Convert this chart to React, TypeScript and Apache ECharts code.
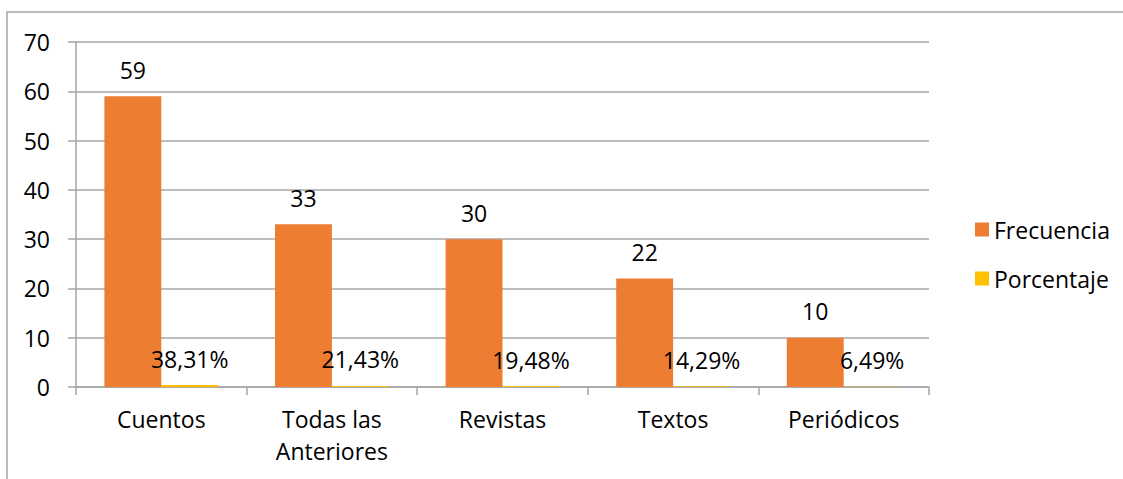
import React, { useEffect, useRef } from "react";
import * as echarts from "echarts";

const categories = ["Cuentos", "Todas las\nAnteriores", "Revistas", "Textos", "Periódicos"];
const frecuencia = [59, 33, 30, 22, 10];
const porcentaje = [0.3831, 0.2143, 0.1948, 0.1429, 0.0649];
const seriesNames = ["Frecuencia", "Porcentaje"];
const yTicks = { min: 0, max: 70, interval: 10 };

const FONT = "'Open Sans', sans-serif";
const GRAY = "#a6a6a6";
const FS = 23;

export default function App() {
  const ref = useRef<HTMLDivElement>(null);
  useEffect(() => {
    if (!ref.current) return;
    const chart = echarts.init(ref.current, undefined, { renderer: "svg" });
    chart.setOption({
      animation: false,
      backgroundColor: "#ffffff",
      textStyle: { fontFamily: FONT },
      graphic: [
        {
          type: "rect",
          shape: { x: 7, y: 12, width: 1140, height: 490 },
          style: { fill: "none", stroke: GRAY, lineWidth: 1.5 },
          silent: true,
        },
      ],
      grid: { left: 76, right: 194, top: 42, bottom: 92 },
      legend: {
        orient: "vertical",
        left: 970,
        top: 212,
        itemWidth: 14,
        itemHeight: 14,
        itemGap: 24,
        icon: "rect",
        textStyle: { fontFamily: FONT, fontSize: FS, color: "#000", lineHeight: 25 },
        data: seriesNames,
      },
      xAxis: {
        type: "category",
        data: categories,
        axisLine: { show: true, lineStyle: { color: GRAY, width: 1.5 } },
        axisTick: { show: true, length: 8, lineStyle: { color: GRAY, width: 1.5 } },
        axisLabel: {
          fontFamily: FONT,
          fontSize: FS,
          color: "#000",
          margin: 16,
          lineHeight: 32,
          interval: 0,
        },
      },
      yAxis: {
        type: "value",
        min: yTicks.min,
        max: yTicks.max,
        interval: yTicks.interval,
        axisLine: { show: true, lineStyle: { color: GRAY, width: 1.5 } },
        axisTick: { show: true, length: 8, lineStyle: { color: GRAY, width: 1.5 } },
        splitLine: { show: true, lineStyle: { color: GRAY, width: 1.5 } },
        axisLabel: { fontFamily: FONT, fontSize: FS, color: "#000", margin: 26 },
      },
      series: [
        {
          name: seriesNames[0],
          type: "bar",
          data: frecuencia,
          barGap: "0%",
          barCategoryGap: "33.3%",
          itemStyle: { color: "#ED7D31" },
          label: {
            show: true,
            position: "top",
            distance: 15,
            fontFamily: FONT,
            fontSize: FS,
            color: "#000",
          },
        },
        {
          name: seriesNames[1],
          type: "bar",
          data: porcentaje,
          barGap: "0%",
          barCategoryGap: "33.3%",
          itemStyle: { color: "#FFC000" },
          label: {
            show: true,
            position: "top",
            distance: 15,
            fontFamily: FONT,
            fontSize: FS,
            color: "#000",
            formatter: (p: any) => (p.value * 100).toFixed(2).replace(".", ",") + "%",
          },
        },
      ],
    });
    return () => chart.dispose();
  }, []);
  return (
    <div
      ref={ref}
      style={{ position: "fixed", left: 0, top: 0, width: 1123, height: 479 }}
    />
  );
}
